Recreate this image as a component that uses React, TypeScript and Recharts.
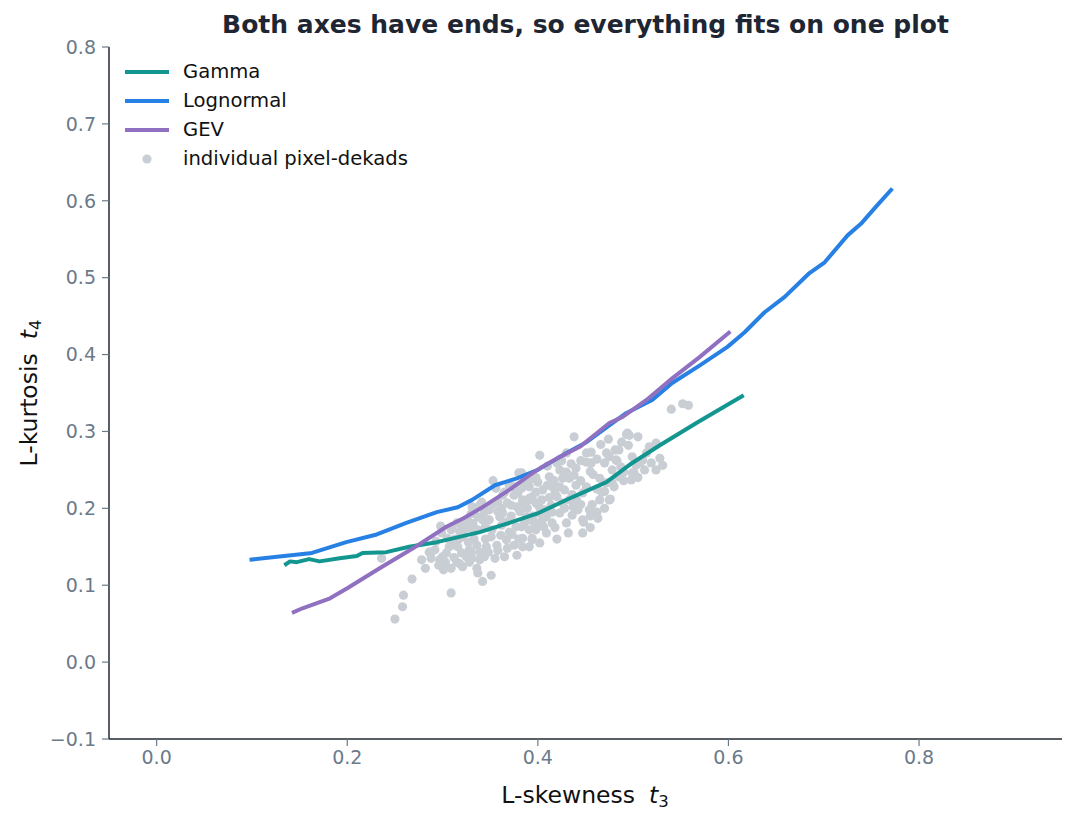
import React from "react";
import { ComposedChart, Scatter, XAxis, YAxis, Label } from "recharts";

const TITLE = "Both axes have ends, so everything fits on one plot";
const X_TICKS = [0, 0.2, 0.4, 0.6, 0.8];
const Y_TICKS = [-0.1, 0, 0.1, 0.2, 0.3, 0.4, 0.5, 0.6, 0.7, 0.8];

const gammaT3 = [0.134, 0.140, 0.147, 0.160, 0.171, 0.192, 0.210, 0.216, 0.241, 0.265, 0.294, 0.339, 0.370, 0.399, 0.437, 0.472, 0.499, 0.528, 0.569, 0.616];
const gammaT4 = [0.126, 0.131, 0.130, 0.134, 0.131, 0.135, 0.138, 0.142, 0.143, 0.150, 0.156, 0.169, 0.181, 0.193, 0.215, 0.234, 0.259, 0.282, 0.313, 0.347];

const lognormT3 = [0.0975, 0.163, 0.199, 0.231, 0.262, 0.294, 0.316, 0.331, 0.355, 0.378, 0.400, 0.430, 0.451, 0.475, 0.493, 0.520, 0.541, 0.570, 0.599, 0.617, 0.638, 0.659, 0.685, 0.701, 0.725, 0.739, 0.756, 0.772];
const lognormT4 = [0.133, 0.142, 0.156, 0.166, 0.181, 0.195, 0.2015, 0.211, 0.230, 0.239, 0.250, 0.272, 0.286, 0.308, 0.324, 0.341, 0.363, 0.386, 0.410, 0.429, 0.455, 0.475, 0.506, 0.520, 0.555, 0.570, 0.594, 0.616];

const gevT3 = [0.142, 0.153, 0.182, 0.200, 0.234, 0.269, 0.304, 0.322, 0.340, 0.370, 0.391, 0.402, 0.420, 0.444, 0.462, 0.475, 0.489, 0.514, 0.541, 0.570, 0.602];
const gevT4 = [0.064, 0.070, 0.083, 0.096, 0.122, 0.148, 0.176, 0.187, 0.200, 0.224, 0.243, 0.252, 0.265, 0.280, 0.298, 0.311, 0.319, 0.341, 0.369, 0.397, 0.430];

const pointT3 = [
  0.250, 0.258, 0.259, 0.268, 0.236, 0.278, 0.282, 0.288, 0.298, 0.309,
  0.300, 0.296, 0.301, 0.309, 0.321, 0.328, 0.337, 0.342, 0.351, 0.336,
  0.353, 0.315, 0.325, 0.321, 0.316, 0.320, 0.328, 0.325, 0.336, 0.339,
  0.344, 0.331, 0.339, 0.337, 0.341, 0.331, 0.339, 0.349, 0.351, 0.357,
  0.355, 0.365, 0.378, 0.375, 0.367, 0.370, 0.362, 0.363, 0.368, 0.378,
  0.384, 0.388, 0.383, 0.394, 0.391, 0.384, 0.398, 0.394, 0.379, 0.363,
  0.358, 0.309, 0.305, 0.299, 0.292, 0.286, 0.297, 0.304, 0.310, 0.288,
  0.402, 0.380, 0.365, 0.375, 0.383, 0.391, 0.398, 0.405, 0.400, 0.404,
  0.391, 0.384, 0.372, 0.341, 0.337, 0.342, 0.347, 0.360, 0.367, 0.310,
  0.321, 0.321, 0.438, 0.474, 0.493, 0.496, 0.505, 0.485, 0.472, 0.451,
  0.456, 0.475, 0.451, 0.456, 0.470, 0.482, 0.487, 0.499, 0.503, 0.517,
  0.524, 0.519, 0.524, 0.531, 0.501, 0.498, 0.485, 0.478, 0.472, 0.465,
  0.467, 0.475, 0.465, 0.463, 0.447, 0.447, 0.454, 0.442, 0.436, 0.433,
  0.447, 0.451, 0.440, 0.433, 0.426, 0.423, 0.415, 0.420, 0.426, 0.414,
  0.423, 0.430, 0.415, 0.409, 0.402, 0.409, 0.394, 0.384, 0.391, 0.386,
  0.402, 0.398, 0.391, 0.412, 0.423, 0.430, 0.420, 0.430, 0.383, 0.540,
  0.552, 0.558, 0.494, 0.488, 0.481, 0.507, 0.499, 0.476, 0.448,
  0.345, 0.352, 0.358, 0.372, 0.377, 0.381, 0.389, 0.395, 0.401, 0.407,
  0.412, 0.418, 0.428, 0.436, 0.441, 0.445, 0.458, 0.462, 0.457, 0.437,
  0.418, 0.406, 0.396, 0.373, 0.361, 0.346, 0.333, 0.327, 0.317, 0.312,
  0.330, 0.349, 0.356, 0.370, 0.393, 0.410, 0.417, 0.440, 0.455, 0.462,
  0.478, 0.490, 0.510, 0.514, 0.470, 0.455, 0.432, 0.420, 0.402, 0.318,
  0.307, 0.293, 0.332, 0.345,
  0.455, 0.462, 0.470, 0.480, 0.490, 0.505, 0.512, 0.528, 0.483, 0.495,
  0.466, 0.445, 0.435, 0.425, 0.438, 0.410, 0.398, 0.386, 0.375, 0.362,
  0.352, 0.344, 0.333, 0.326, 0.318, 0.313, 0.303, 0.315, 0.330, 0.348,
  0.358, 0.368, 0.380, 0.390, 0.405, 0.415, 0.428, 0.445,
];
const pointT4 = [
  0.056, 0.072, 0.087, 0.108, 0.135, 0.133, 0.122, 0.143, 0.177, 0.090,
  0.137, 0.126, 0.120, 0.122, 0.124, 0.130, 0.116, 0.105, 0.113, 0.122,
  0.236, 0.181, 0.174, 0.163, 0.150, 0.142, 0.146, 0.137, 0.152, 0.143,
  0.137, 0.135, 0.133, 0.172, 0.189, 0.202, 0.204, 0.185, 0.163, 0.152,
  0.135, 0.137, 0.139, 0.152, 0.159, 0.169, 0.178, 0.194, 0.207, 0.202,
  0.211, 0.189, 0.176, 0.161, 0.150, 0.161, 0.172, 0.215, 0.220, 0.217,
  0.208, 0.172, 0.161, 0.168, 0.146, 0.143, 0.133, 0.142, 0.152, 0.135,
  0.269, 0.246, 0.221, 0.217, 0.226, 0.228, 0.221, 0.224, 0.234, 0.211,
  0.211, 0.207, 0.204, 0.208, 0.189, 0.185, 0.185, 0.189, 0.182, 0.176,
  0.178, 0.168, 0.293, 0.290, 0.296, 0.295, 0.293, 0.276, 0.272, 0.272,
  0.273, 0.267, 0.260, 0.259, 0.259, 0.263, 0.254, 0.267, 0.256, 0.280,
  0.285, 0.259, 0.250, 0.256, 0.246, 0.237, 0.241, 0.233, 0.233, 0.239,
  0.221, 0.211, 0.211, 0.187, 0.185, 0.168, 0.198, 0.198, 0.191, 0.211,
  0.220, 0.228, 0.230, 0.239, 0.239, 0.228, 0.228, 0.215, 0.207, 0.204,
  0.194, 0.181, 0.181, 0.189, 0.181, 0.168, 0.159, 0.150, 0.172, 0.181,
  0.194, 0.207, 0.213, 0.241, 0.250, 0.247, 0.259, 0.272, 0.246, 0.329,
  0.336, 0.334, 0.298, 0.286, 0.276, 0.259, 0.246, 0.212, 0.182,
  0.160, 0.172, 0.196, 0.190, 0.176, 0.196, 0.200, 0.190, 0.203, 0.198,
  0.214, 0.222, 0.224, 0.218, 0.210, 0.236, 0.244, 0.225, 0.205, 0.202,
  0.175, 0.176, 0.182, 0.166, 0.165, 0.150, 0.160, 0.156, 0.160, 0.136,
  0.193, 0.198, 0.226, 0.230, 0.238, 0.255, 0.236, 0.252, 0.248, 0.264,
  0.250, 0.247, 0.263, 0.272, 0.200, 0.190, 0.168, 0.160, 0.155, 0.128,
  0.150, 0.157, 0.180, 0.176,
  0.175, 0.195, 0.222, 0.228, 0.236, 0.240, 0.250, 0.265, 0.262, 0.282,
  0.283, 0.262, 0.258, 0.262, 0.243, 0.230, 0.240, 0.232, 0.228, 0.200,
  0.205, 0.196, 0.170, 0.185, 0.170, 0.160, 0.130, 0.130, 0.143, 0.143,
  0.145, 0.148, 0.160, 0.185, 0.186, 0.195, 0.200, 0.205,
];

const COLORS = {
  gamma: "#13968f",
  lognormal: "#2780e3",
  gev: "#9070c0",
  points: "#c9ced4",
  tick: "#6b7a89",
  spine: "#222831",
  title: "#1f2633",
};

const FONT = "'DejaVu Sans', sans-serif";

const zip = (xs: number[], ys: number[]) => xs.map((x, i) => ({ x, y: ys[i] }));
const gammaData = zip(gammaT3, gammaT4);
const lognormData = zip(lognormT3, lognormT4);
const gevData = zip(gevT3, gevT4);
const pointData = zip(pointT3, pointT4);

const fmt = (v: number) => (v < 0 ? "\u2212" + Math.abs(v).toFixed(1) : v.toFixed(1));

const legendItems = [
  { label: "Gamma", color: COLORS.gamma, kind: "line" },
  { label: "Lognormal", color: COLORS.lognormal, kind: "line" },
  { label: "GEV", color: COLORS.gev, kind: "line" },
  { label: "individual pixel-dekads", color: COLORS.points, kind: "dot" },
];

const Dot = (props: any) => {
  const { cx, cy } = props;
  if (cx == null || cy == null) return null;
  return <circle cx={cx} cy={cy} r={4.6} fill={COLORS.points} />;
};
const NoDot = () => null;

const curveLine = (color: string) => ({
  stroke: color,
  strokeWidth: 4,
  fill: "none",
  strokeLinejoin: "round" as const,
  strokeLinecap: "butt" as const,
});

export default function App() {
  return (
    <div style={{ position: "relative", width: 1077, height: 822, fontFamily: FONT }}>
      <style>{"body{margin:0;}"}</style>
      <ComposedChart width={1077} height={822} margin={{ top: 47, right: 15, bottom: 0, left: 0 }}>
        <XAxis
          type="number"
          dataKey="x"
          domain={[-0.05, 0.95]}
          ticks={X_TICKS}
          tickFormatter={fmt}
          allowDataOverflow
          height={83}
          tickSize={7}
          tickMargin={5}
          axisLine={{ stroke: COLORS.spine, strokeWidth: 1.5 }}
          tickLine={{ stroke: COLORS.tick, strokeWidth: 1.2 }}
          tick={{ fill: COLORS.tick, fontSize: 19, fontFamily: FONT }}
        >
          <Label
            content={() => (
              <text x={585} y={803} textAnchor="middle" fontFamily={FONT} fontSize={23.5} fill="#111">
                L-skewness
                <tspan dx={14} fontStyle="italic">t</tspan>
                <tspan fontSize={16.5} dy={4}>3</tspan>
              </text>
            )}
          />
        </XAxis>
        <YAxis
          type="number"
          dataKey="y"
          domain={[-0.1, 0.8]}
          ticks={Y_TICKS}
          tickFormatter={fmt}
          allowDataOverflow
          width={109}
          tickSize={7}
          tickMargin={6}
          axisLine={{ stroke: COLORS.spine, strokeWidth: 1.5 }}
          tickLine={{ stroke: COLORS.tick, strokeWidth: 1.2 }}
          tick={{ fill: COLORS.tick, fontSize: 19, fontFamily: FONT }}
        >
          <Label
            content={() => (
              <text x={37} y={393} textAnchor="middle" transform="rotate(-90 37 393)" fontFamily={FONT} fontSize={23.5} fill="#111">
                L-kurtosis
                <tspan dx={14} fontStyle="italic">t</tspan>
                <tspan fontSize={16.5} dy={4}>4</tspan>
              </text>
            )}
          />
        </YAxis>
        <Scatter name="individual pixel-dekads" data={pointData} dataKey="y" shape={Dot} isAnimationActive={false} />
        <Scatter name="Gamma" data={gammaData} dataKey="y" line={curveLine(COLORS.gamma)} lineType="joint" shape={NoDot} isAnimationActive={false} />
        <Scatter name="Lognormal" data={lognormData} dataKey="y" line={curveLine(COLORS.lognormal)} lineType="joint" shape={NoDot} isAnimationActive={false} />
        <Scatter name="GEV" data={gevData} dataKey="y" line={curveLine(COLORS.gev)} lineType="joint" shape={NoDot} isAnimationActive={false} />
      </ComposedChart>
      <div
        style={{
          position: "absolute",
          left: 0,
          top: 9,
          width: 1171,
          textAlign: "center",
          fontWeight: "bold",
          fontSize: 25,
          color: COLORS.title,
          lineHeight: "32px",
          whiteSpace: "nowrap",
        }}
      >
        {TITLE}
      </div>
      <div style={{ position: "absolute", left: 124, top: 58 }}>
        {legendItems.map((it) => (
          <div key={it.label} style={{ display: "flex", alignItems: "center", height: 28.8 }}>
            <svg width={46} height={20} style={{ display: "block" }}>
              {it.kind === "line" ? (
                <line x1={1} x2={45} y1={10} y2={10} stroke={it.color} strokeWidth={4} />
              ) : (
                <circle cx={23} cy={10} r={4.6} fill={it.color} />
              )}
            </svg>
            <span style={{ marginLeft: 13, fontSize: 19.6, color: "#111", lineHeight: "20px", whiteSpace: "nowrap" }}>{it.label}</span>
          </div>
        ))}
      </div>
    </div>
  );
}
